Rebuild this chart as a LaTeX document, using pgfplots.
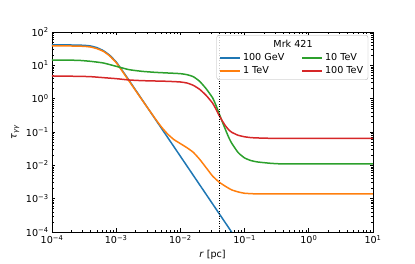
\documentclass[border=0pt]{standalone}
\usepackage{pgfplots}
\pgfplotsset{compat=1.18}
\usepackage{fontspec}
\setmainfont{DejaVu Sans}
\definecolor{c0}{HTML}{1F77B4}
\definecolor{c1}{HTML}{FF7F0E}
\definecolor{c2}{HTML}{2CA02C}
\definecolor{c3}{HTML}{D62728}
\begin{document}
\begin{tikzpicture}
\begin{axis}[
  xmode=log, ymode=log,
  scale only axis, width=334pt, height=208pt,
  xmin=1e-4, xmax=10, ymin=1e-4, ymax=100,
  xtick={1e-4,1e-3,1e-2,1e-1,1,10},
  xticklabels={10\textsuperscript{−4},10\textsuperscript{−3},10\textsuperscript{−2},10\textsuperscript{−1},10\textsuperscript{0},10\textsuperscript{1}},
  ytick={1e-4,1e-3,1e-2,1e-1,1,10,100},
  yticklabels={10\textsuperscript{−4},10\textsuperscript{−3},10\textsuperscript{−2},10\textsuperscript{−1},10\textsuperscript{0},10\textsuperscript{1},10\textsuperscript{2}},
  minor xtick={2e-4,3e-4,4e-4,5e-4,6e-4,7e-4,8e-4,9e-4,2e-3,3e-3,4e-3,5e-3,6e-3,7e-3,8e-3,9e-3,2e-2,3e-2,4e-2,5e-2,6e-2,7e-2,8e-2,9e-2,0.2,0.3,0.4,0.5,0.6,0.7,0.8,0.9,2,3,4,5,6,7,8,9},
  minor ytick={2e-4,3e-4,4e-4,5e-4,6e-4,7e-4,8e-4,9e-4,2e-3,3e-3,4e-3,5e-3,6e-3,7e-3,8e-3,9e-3,2e-2,3e-2,4e-2,5e-2,6e-2,7e-2,8e-2,9e-2,0.2,0.3,0.4,0.5,0.6,0.7,0.8,0.9,2,3,4,5,6,7,8,9,20,30,40,50,60,70,80,90},
  tick align=inside,
  major tick length=3.6pt, minor tick length=2.1pt,
  major tick style={black, line width=0.8pt},
  minor tick style={black, line width=0.6pt},
  axis line style={line width=0.8pt},
  ticklabel style={font=\fontsize{10}{12}\selectfont},
  label style={font=\fontsize{10}{12}\selectfont},
  xlabel={\textit{r} [pc]},
  ylabel={\textit{τ}\textsubscript{\textit{γγ}}},
  legend columns=2,
  legend cell align=left,
  legend style={at={(0.985,0.985)}, anchor=north east, draw=black!30, rounded corners=2.5pt,
    fill=white, fill opacity=0.8, text opacity=1, draw opacity=1,
    font=\fontsize{10}{12}\selectfont, row sep=0.8pt, inner xsep=3pt, inner ysep=2.5pt,
    /tikz/every even column/.append style={column sep=16pt}},
  legend image code/.code={\draw[#1, line width=1.56pt] (0pt,0pt) -- (20.8pt,0pt);},
  every axis plot/.append style={smooth, tension=0.3, line join=round},
]
\addplot[c0, line width=1.56pt, forget plot] coordinates {
(1e-4,40.74) (1.995e-4,40.74) (3.162e-4,39.81) (3.981e-4,38.02) (5.012e-4,33.88)
(6.310e-4,27.54) (7.943e-4,19.95) (1e-3,12.59) (1.259e-3,6.761) (1.585e-3,3.548)
(2.512e-3,0.9550) (3.981e-3,0.2570) (6.310e-3,0.06918) (1e-2,0.01862)
(1.585e-2,5.012e-3) (2.512e-2,1.349e-3) (3.981e-2,3.631e-4) (6.310e-2,9.772e-5) (0.1,2.63e-5)};
\addplot[c1, line width=1.56pt, forget plot] coordinates {
(1e-4,38.02) (1.995e-4,38.02) (3.162e-4,37.15) (3.981e-4,35.48) (5.012e-4,31.62)
(6.310e-4,26.30) (7.943e-4,19.05) (1e-3,12.02) (1.259e-3,6.457) (1.585e-3,3.388)
(2.512e-3,0.9333) (3.981e-3,0.2630) (5.012e-3,0.1445) (6.310e-3,0.0871) (7.943e-3,0.05888)
(1e-2,0.04467) (1.259e-2,0.03388) (1.585e-2,0.02455) (1.995e-2,0.01514) (2.512e-2,8.511e-3)
(3.162e-2,4.786e-3) (3.981e-2,3.162e-3) (5.012e-2,2.344e-3) (6.310e-2,1.820e-3)
(7.943e-2,1.585e-3) (0.1,1.445e-3) (0.1585,1.380e-3) (0.3162,1.380e-3) (1,1.380e-3) (3.162,1.380e-3) (10,1.380e-3)};
\addplot[c2, line width=1.56pt, forget plot] coordinates {
(1e-4,14.45) (2.512e-4,14.13) (3.981e-4,13.18) (6.310e-4,11.75) (1e-3,9.333)
(1.585e-3,7.413) (2.512e-3,6.607) (3.981e-3,6.166) (6.310e-3,5.888) (1e-2,5.623)
(1.259e-2,5.248) (1.585e-2,4.571) (1.995e-2,3.311) (2.512e-2,1.995) (3.162e-2,1.072)
(3.548e-2,0.6607) (3.981e-2,0.3715) (4.467e-2,0.2089) (5.012e-2,0.1202) (5.623e-2,0.07079)
(6.310e-2,0.04571) (7.943e-2,0.02399) (0.1,0.01660) (0.1259,0.01380) (0.1585,0.01259)
(0.2512,0.01148) (0.3981,0.01096) (1,0.01096) (3.162,0.01096) (10,0.01096)};
\addplot[c3, line width=1.56pt, forget plot] coordinates {
(1e-4,4.786) (2.512e-4,4.677) (3.981e-4,4.571) (6.310e-4,4.266) (1e-3,3.981)
(1.585e-3,3.631) (2.512e-3,3.467) (3.981e-3,3.388) (6.310e-3,3.311) (1e-2,3.162)
(1.259e-2,2.951) (1.585e-2,2.512) (1.995e-2,1.905) (2.512e-2,1.259) (3.162e-2,0.7413)
(3.548e-2,0.5012) (3.981e-2,0.3236) (4.467e-2,0.2188) (5.012e-2,0.1549) (5.623e-2,0.1175)
(6.310e-2,0.09772) (7.943e-2,0.07943) (0.1,0.07161) (0.1259,0.06761) (0.1585,0.06607)
(0.2512,0.06457) (1,0.06457) (3.162,0.06457) (10,0.06457)};
\addplot[black, line width=1pt, dash pattern=on 1pt off 1.65pt, forget plot, sharp plot] coordinates {(0.0404,1e-4) (0.0404,100)};
\addlegendimage{empty legend}\addlegendentry{\strut}
\addlegendimage{empty legend}\addlegendentry{\strut}
\addlegendimage{c0}\addlegendentry{100 GeV}
\addlegendimage{c2}\addlegendentry{10 TeV}
\addlegendimage{c1}\addlegendentry{1 TeV}
\addlegendimage{c3}\addlegendentry{100 TeV}
\coordinate (T) at (rel axis cs:0.751,0.943);
\end{axis}
\node[font=\fontsize{10}{12}\selectfont] at (T) {Mrk 421};
\path ([xshift=-54.1pt,yshift=-31.2pt]current axis.south west) rectangle ([xshift=43.7pt,yshift=33.3pt]current axis.north east);
\end{tikzpicture}
\end{document}
